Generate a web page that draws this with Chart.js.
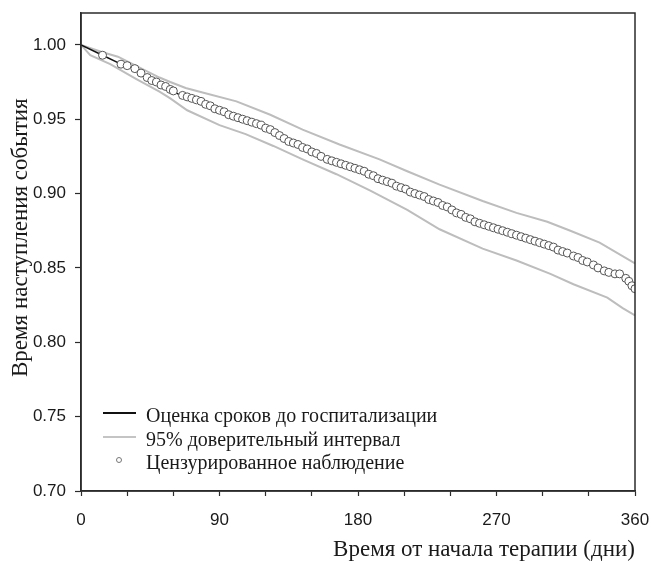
<!DOCTYPE html>
<html>
<head>
<meta charset="utf-8">
<script src="https://cdn.jsdelivr.net/npm/chart.js@4/dist/chart.umd.min.js"></script>
<style>
  html, body { margin: 0; padding: 0; background: #fff; }
  #wrap { width: 651px; height: 564px; }
</style>
</head>
<body>
<div id="wrap"><canvas id="chartCanvas" width="651" height="564"></canvas></div>
<script>
// Kaplan-Meier estimate (days, survival)
const kmDays = [0, 14, 26, 35, 45, 53, 63, 71, 84, 97, 107, 125, 140, 153, 160, 179, 194, 212, 229, 240, 257, 272, 294, 309, 318, 331, 342, 352, 360];
const kmSurv = [1.000, 0.993, 0.987, 0.984, 0.977, 0.973, 0.967, 0.9645, 0.959, 0.953, 0.950, 0.942, 0.933, 0.927, 0.923, 0.917, 0.910, 0.903, 0.895, 0.890, 0.881, 0.876, 0.869, 0.863, 0.859, 0.853, 0.847, 0.845, 0.836];

// 95% confidence interval
const upperDays = [0, 14, 24, 51, 58, 68, 79, 101, 123, 144, 168, 194, 212, 233, 261, 283, 303, 318, 337, 360];
const upperSurv = [1.000, 0.995, 0.992, 0.978, 0.975, 0.971, 0.968, 0.962, 0.953, 0.943, 0.933, 0.923, 0.915, 0.906, 0.895, 0.887, 0.881, 0.875, 0.867, 0.853];
const lowerDays = [0, 6, 19, 36, 51, 58, 69, 90, 107, 125, 144, 166, 188, 212, 233, 261, 283, 305, 320, 342, 352, 360];
const lowerSurv = [1.000, 0.993, 0.987, 0.977, 0.9685, 0.964, 0.956, 0.946, 0.940, 0.932, 0.923, 0.913, 0.902, 0.889, 0.876, 0.863, 0.855, 0.846, 0.839, 0.830, 0.823, 0.818];

// censored observations
const censDays = [14, 26, 30, 35, 39, 43, 46, 49, 52, 55, 58, 60, 66, 69, 72, 75, 78, 81, 84, 87, 90, 93, 96, 99, 102, 105, 108, 111, 114, 117, 120, 123, 126, 129, 132, 135, 138, 141, 144, 147, 150, 153, 156, 160, 163, 166, 169, 172, 175, 178, 181, 184, 187, 190, 193, 196, 199, 202, 205, 208, 211, 214, 217, 220, 223, 226, 229, 232, 235, 238, 241, 244, 247, 250, 253, 256, 259, 262, 265, 268, 271, 274, 277, 280, 283, 286, 289, 292, 295, 298, 301, 304, 307, 310, 313, 316, 320, 323, 326, 329, 333, 336, 340, 343, 347, 350, 354, 356, 358, 360];
const censSurv = [0.993, 0.987, 0.986, 0.984, 0.981, 0.978, 0.976, 0.975, 0.973, 0.972, 0.970, 0.969, 0.966, 0.965, 0.964, 0.963, 0.962, 0.960, 0.959, 0.957, 0.956, 0.955, 0.953, 0.952, 0.951, 0.950, 0.949, 0.948, 0.947, 0.946, 0.944, 0.943, 0.941, 0.939, 0.937, 0.935, 0.934, 0.933, 0.931, 0.930, 0.928, 0.927, 0.925, 0.923, 0.922, 0.921, 0.920, 0.919, 0.918, 0.917, 0.916, 0.915, 0.913, 0.912, 0.910, 0.909, 0.908, 0.907, 0.905, 0.904, 0.903, 0.901, 0.900, 0.899, 0.898, 0.896, 0.895, 0.894, 0.892, 0.891, 0.889, 0.887, 0.886, 0.884, 0.883, 0.881, 0.880, 0.879, 0.878, 0.877, 0.876, 0.875, 0.874, 0.873, 0.872, 0.871, 0.870, 0.869, 0.868, 0.867, 0.866, 0.865, 0.864, 0.862, 0.861, 0.860, 0.858, 0.857, 0.855, 0.854, 0.852, 0.850, 0.848, 0.847, 0.846, 0.846, 0.843, 0.841, 0.838, 0.836];

const xTickLabels = [0, 90, 180, 270, 360];
const yTickLabels = [0.70, 0.75, 0.80, 0.85, 0.90, 0.95, 1.00];

const legendLabels = ["Оценка сроков до госпитализации", "95% доверительный интервал", "Цензурированное наблюдение"];
const yTitle = "Время наступления события";
const xTitle = "Время от начала терапии (дни)";

const serif = "'Liberation Serif', 'Times New Roman', serif";
const narrow = "'Liberation Sans Narrow', 'Arial Narrow', 'Liberation Sans', sans-serif";

function toPoints(xs, ys) {
    return xs.map((x, i) => ({ x: x, y: ys[i] }));
}

// box around the plot, legend inside it, y title
const framePlugin = {
    id: "frame",
    afterDraw(chart) {
        const ctx = chart.ctx;
        const a = chart.chartArea;
        ctx.save();
        ctx.strokeStyle = "#2b2b2b";
        ctx.lineWidth = 1.5;
        ctx.strokeRect(a.left, a.top, a.right - a.left, a.bottom - a.top);

        const rows = [a.bottom - 78, a.bottom - 54, a.bottom - 31];
        const x0 = a.left + 22;
        ctx.lineWidth = 2;
        ctx.strokeStyle = "#111";
        ctx.beginPath(); ctx.moveTo(x0, rows[0]); ctx.lineTo(x0 + 33, rows[0]); ctx.stroke();
        ctx.strokeStyle = "#c4c4c4";
        ctx.beginPath(); ctx.moveTo(x0, rows[1]); ctx.lineTo(x0 + 33, rows[1]); ctx.stroke();
        ctx.lineWidth = 1;
        ctx.strokeStyle = "#777";
        ctx.fillStyle = "#fff";
        ctx.beginPath(); ctx.arc(a.left + 38, rows[2], 2.5, 0, Math.PI * 2); ctx.fill(); ctx.stroke();

        ctx.fillStyle = "#1a1a1a";
        ctx.font = "20px " + serif;
        ctx.textBaseline = "middle";
        ctx.textAlign = "left";
        legendLabels.forEach((t, i) => ctx.fillText(t, a.left + 65, rows[i] + 4));

        // y axis title, a bit above the middle like the original
        ctx.font = "23px " + serif;
        ctx.textAlign = "center";
        ctx.translate(21, a.top + (a.bottom - a.top) * 0.47);
        ctx.rotate(-Math.PI / 2);
        ctx.fillText(yTitle, 0, 0);
        ctx.restore();
    }
};

const ctx = document.getElementById("chartCanvas").getContext("2d");
const myChart = new Chart(ctx, {
    type: "scatter",
    data: {
        datasets: [
            {
                label: legendLabels[2],
                data: toPoints(censDays, censSurv),
                showLine: false,
                pointRadius: 4,
                pointBackgroundColor: "#fff",
                pointBorderColor: "#555",
                pointBorderWidth: 1
            },
            {
                label: legendLabels[0],
                data: toPoints(kmDays, kmSurv),
                showLine: true,
                borderColor: "#111",
                borderWidth: 1.5,
                pointRadius: 0,
                tension: 0
            },
            {
                label: legendLabels[1],
                data: toPoints(upperDays, upperSurv),
                showLine: true,
                borderColor: "#bdbdbd",
                borderWidth: 2,
                pointRadius: 0
            },
            {
                label: legendLabels[1],
                data: toPoints(lowerDays, lowerSurv),
                showLine: true,
                borderColor: "#bdbdbd",
                borderWidth: 2,
                pointRadius: 0
            }
        ]
    },
    options: {
        responsive: false,
        animation: false,
        events: [],
        layout: { padding: { top: 13, right: 16, left: 0, bottom: 0 } },
        plugins: {
            legend: { display: false },
            tooltip: { enabled: false }
        },
        scales: {
            x: {
                type: "linear",
                min: 0,
                max: 360,
                afterFit(scale) {
                    scale.height = 73;
                    scale.paddingLeft = 0;
                    scale.paddingRight = 0;
                },
                border: { color: "#2b2b2b", width: 1.5 },
                grid: { drawOnChartArea: false, tickLength: 5, color: "#2b2b2b", tickWidth: 1.2 },
                ticks: {
                    stepSize: 30,
                    padding: 14,
                    maxRotation: 0,
                    autoSkip: false,
                    color: "#1a1a1a",
                    font: { family: narrow, size: 17 },
                    callback: (v) => xTickLabels.includes(v) ? String(v) : ""
                },
                title: {
                    display: true,
                    text: xTitle,
                    align: "end",
                    color: "#1a1a1a",
                    font: { family: serif, size: 23 },
                    padding: { top: 0, bottom: 0 }
                }
            },
            y: {
                type: "linear",
                min: 0.70,
                max: 1.0214,
                afterFit(scale) {
                    scale.width = 81;
                    scale.paddingTop = 0;
                    scale.paddingBottom = 0;
                },
                afterBuildTicks(scale) { scale.ticks = yTickLabels.map(v => ({ value: v })); },
                border: { color: "#2b2b2b", width: 1.5 },
                grid: { drawOnChartArea: false, tickLength: 6, color: "#2b2b2b", tickWidth: 1.2 },
                ticks: {
                    padding: 9,
                    color: "#1a1a1a",
                    font: { family: narrow, size: 17 },
                    callback: (v) => v.toFixed(2)
                }
            }
        }
    },
    plugins: [framePlugin]
});
</script>
</body>
</html>
